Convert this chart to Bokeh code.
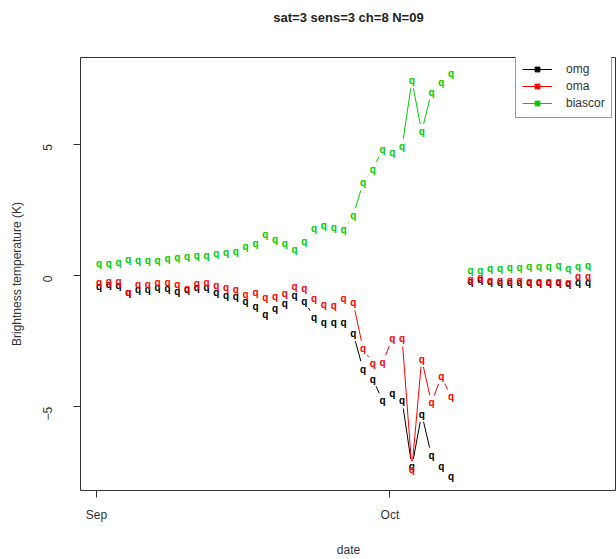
import numpy as np
import pandas as pd
from bokeh.plotting import figure
from bokeh.models import (Range1d, FixedTicker, Legend, LegendItem, ColumnDataSource,
                          LinearAxis)
from bokeh.core.properties import value
from bokeh.embed import file_html
from bokeh.resources import INLINE

chart_title = "sat=3 sens=3 ch=8 N=09"

# observation times (daily, 06 UTC); no data on Oct 8
dates1 = ["2019-09-%02d 06:00" % d for d in range(1, 31)] + ["2019-10-%02d 06:00" % d for d in range(1, 8)]
dates2 = ["2019-10-%02d 06:00" % d for d in range(9, 22)]

omg1 = [-0.43, -0.34, -0.37, -0.63, -0.53, -0.53, -0.47, -0.50, -0.59, -0.53,
        -0.47, -0.44, -0.63, -0.76, -0.78, -1.00, -1.19, -1.48, -1.25, -1.06,
        -0.76, -0.97, -1.60, -1.79, -1.79, -1.79, -2.21, -3.56, -3.94, -4.76,
        -4.48, -4.76, -7.28, -5.27, -6.84, -7.26, -7.66]
oma1 = [-0.28, -0.22, -0.24, -0.63, -0.34, -0.34, -0.25, -0.28, -0.34, -0.50,
        -0.31, -0.25, -0.38, -0.47, -0.53, -0.72, -0.66, -0.84, -0.78, -0.69,
        -0.41, -0.49, -0.87, -1.10, -1.14, -0.87, -1.03, -2.78, -3.35, -3.31,
        -2.40, -2.40, -7.37, -3.18, -4.85, -3.84, -4.61]
bias1 = [0.44, 0.45, 0.50, 0.60, 0.58, 0.58, 0.58, 0.63, 0.70, 0.73,
         0.76, 0.76, 0.82, 0.88, 0.92, 1.12, 1.22, 1.55, 1.36, 1.21,
         0.98, 1.30, 1.77, 1.90, 1.84, 1.74, 2.27, 3.53, 4.05, 4.80,
         4.67, 4.90, 7.42, 5.47, 6.98, 7.36, 7.70]

omg2 = [-0.22, -0.15, -0.24, -0.25, -0.25, -0.25, -0.27, -0.27, -0.27, -0.27, -0.30, -0.25, -0.25]
oma2 = [-0.15, -0.09, -0.18, -0.19, -0.19, -0.19, -0.21, -0.21, -0.21, -0.21, -0.25, -0.03, -0.03]
bias2 = [0.20, 0.20, 0.25, 0.25, 0.29, 0.29, 0.33, 0.33, 0.35, 0.39, 0.27, 0.33, 0.38]

series_names = ["omg", "oma", "biascor"]
series_colors = ["#000000", "#FF0000", "#00CD00"]

y_ticks = [-5, 0, 5]
month_ticks = ["2019-09-01", "2019-10-01"]
month_labels = ["Sep", "Oct"]

origin = pd.Timestamp("2019-09-01")
def to_days(ds):
    return [(pd.Timestamp(d) - origin) / pd.Timedelta(days=1) for d in ds]

x_all = to_days(dates1 + dates2)
series = [omg1 + omg2, oma1 + oma2, bias1 + bias2]

W, H = 616, 559
BL, BR, BT, BB = 80, 0, 57, 67
x_range = Range1d(-1.64, 53.17)
y_range = Range1d(-8.18, 8.295)
fw, fh = W - BL - BR, H - BT - BB
px_x = fw / (x_range.end - x_range.start)
px_y = fh / (y_range.end - y_range.start)

p = figure(width=W, height=H, output_backend="svg", toolbar_location=None,
           x_range=x_range, y_range=y_range,
           min_border_left=BL, min_border_right=BR, min_border_top=BT, min_border_bottom=BB)
p.grid.visible = False
p.outline_line_color = "#333333"
p.outline_line_width = 1
p.background_fill_color = "white"
p.border_fill_color = "white"

font = "Liberation Sans"

xax = p.below[0]
yax = p.left[0]

for ax in [xax, yax]:
    ax.axis_line_color = None
    ax.major_tick_in = 0
    ax.major_tick_out = 7
    ax.major_tick_line_color = "#333333"
    ax.minor_tick_line_color = None
    ax.major_label_text_font = font
    ax.major_label_text_font_size = "12px"
    ax.major_label_text_color = "#333333"
    ax.axis_label_text_font = font
    ax.axis_label_text_font_size = "12px"
    ax.axis_label_text_font_style = "normal"
    ax.axis_label_text_color = "#333333"

tick_days = to_days(month_ticks)
xax.ticker = FixedTicker(ticks=tick_days)
xax.major_label_overrides = {t: l for t, l in zip(tick_days, month_labels)}
xax.major_label_standoff = 10
xax.axis_label = "date"
xax.axis_label_standoff = 18

yax.ticker = FixedTicker(ticks=y_ticks)
yax.major_label_orientation = np.pi / 2
yax.major_label_standoff = 26
yax.axis_label = "Brightness temperature (K)"
yax.axis_label_standoff = 12

# main title: carried by a tick-less axis above the plot region
title_axis = LinearAxis(ticker=FixedTicker(ticks=[]), axis_line_color=None,
                        major_tick_line_color=None, minor_tick_line_color=None,
                        major_tick_in=0, major_tick_out=0,
                        axis_label=chart_title, axis_label_text_font=font,
                        axis_label_text_font_size="13px", axis_label_text_font_style="bold",
                        axis_label_text_color="#222222", axis_label_standoff=33,
                        major_label_standoff=0)
p.add_layout(title_axis, "above")

GAP = 8.0  # px gap around points (type="b")
legend_items = []
for name, col, vals in zip(series_names, series_colors, series):
    x0s, y0s, x1s, y1s = [], [], [], []
    for i in range(len(vals) - 1):
        if x_all[i + 1] - x_all[i] > 1.5:
            continue
        dxp = (x_all[i + 1] - x_all[i]) * px_x
        dyp = (vals[i + 1] - vals[i]) * px_y
        L = np.hypot(dxp, dyp)
        if L <= 2 * GAP:
            continue
        fx = GAP / L
        ddx = x_all[i + 1] - x_all[i]
        ddy = vals[i + 1] - vals[i]
        x0s.append(x_all[i] + fx * ddx)
        y0s.append(vals[i] + fx * ddy)
        x1s.append(x_all[i + 1] - fx * ddx)
        y1s.append(vals[i + 1] - fx * ddy)
    seg = p.segment(x0=x0s, y0=y0s, x1=x1s, y1=y1s, line_color=col, line_width=1)
    src = ColumnDataSource(dict(x=x_all, y=vals, t=["q"] * len(vals)))
    p.text(x="x", y="y", text="t", source=src, text_color=col,
           text_font=value(font), text_font_size="10px", text_font_style="bold",
           text_align="center", text_baseline="middle")
    # legend swatch only: a single undefined (NaN) point, never drawn in the plot
    mk = p.scatter(x=[np.nan], y=[np.nan], marker="square", size=5,
                   fill_color=col, line_color=col)
    legend_items.append(LegendItem(label=name, renderers=[seg, mk]))

leg_h = 6 * 2 + 17 * 3
legend = Legend(items=legend_items, location=(435, fh - leg_h),
                glyph_width=30, glyph_height=12, label_height=17, spacing=0,
                padding=6, margin=0, label_standoff=14,
                label_text_font=font, label_text_font_size="12px", label_text_color="#333333",
                border_line_color="#333333", border_line_width=1,
                background_fill_color="white", background_fill_alpha=1.0)
p.add_layout(legend)

open("out.html", "w").write(file_html(p, INLINE))
